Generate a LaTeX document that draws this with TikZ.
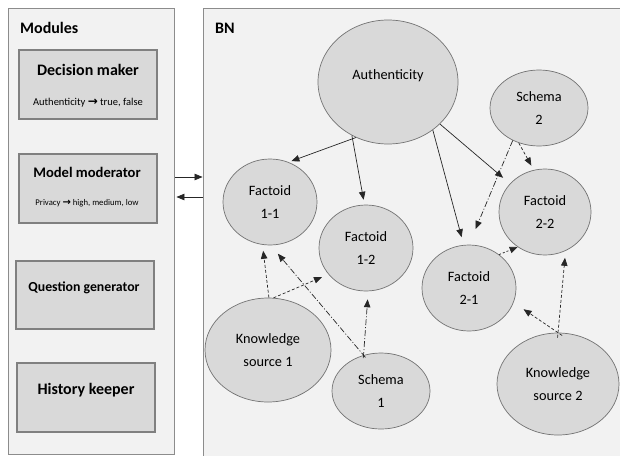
\documentclass[tikz,border=0pt]{standalone}
\usepackage{fontspec}
\setmainfont{Carlito}
\newfontfamily\symfont{DejaVu Sans}
\usetikzlibrary{arrows.meta,calc,shapes.geometric}

\begin{document}
\begin{tikzpicture}[x=1pt,y=-1pt,
  panel/.style={draw=black!45, fill=black!5, line width=0.9pt, inner sep=0},
  modbox/.style={draw=black!50, fill=black!15, line width=1.1pt,
    minimum width=138pt, minimum height=69pt, inner sep=0},
  var/.style={ellipse, draw=black!55, fill=black!15, line width=0.7pt,
    inner sep=0, align=center, font=\fontsize{14.3}{23}\selectfont},
  paneltitle/.style={font=\bfseries\fontsize{16}{18}\selectfont, inner sep=0, anchor=west},
  boxtitle/.style={font=\bfseries\fontsize{#1}{18}\selectfont, inner sep=0},
  boxtitle/.default=16,
  boxnote/.style={font=\fontsize{10.5}{12}\selectfont, inner sep=0},
  smallnote/.style={font=\fontsize{8.7}{10}\selectfont, inner sep=0},
  link/.style={-{Triangle[length=8pt,width=6.5pt]}, line width=0.7pt, draw=black!85},
  dashedlink/.style={link, dash pattern=on 3pt off 2pt},
  dotlink/.style={link, dash pattern=on 2pt off 2pt},
  dashdotlink/.style={link, dash pattern=on 6pt off 2pt on 1pt off 2pt}
]
\useasboundingbox (0,0) rectangle (620,455);
\clip (0,0) rectangle (620,455);
\fill[white] (0,0) rectangle (620,455);

% the two panels
\node[panel, minimum width=166pt, minimum height=446pt] (modules) at (91,231) {};
\node[panel, minimum width=437pt, minimum height=462pt] (bn) at (421.5,239) {};
\node[paneltitle] (modlabel) at (20,28) {Modules};
\node[paneltitle] (bnlabel) at (215,28) {BN};

% module boxes
\node[modbox] (dm) at (88,84.5) {};
\node[boxtitle] (dmtitle) at (88,70) {Decision maker};
\node[boxnote] (dmnote) at (88,102.5) {Authenticity {\symfont\bfseries\fontsize{12}{12}\selectfont →} true, false};

\node[modbox] (mm) at (88,188.5) {};
\node[boxtitle=14.6] (mmtitle) at (87,172.5) {Model moderator};
\node[smallnote] (mmnote) at (87,203.5) {Privacy {\symfont\bfseries\fontsize{10}{10}\selectfont →} high, medium, low};

\node[modbox, minimum height=68pt] (qg) at (85,295) {};
\node[boxtitle=13.8] (qgtitle) at (84,288) {Question generator};

\node[modbox] (hk) at (86,397.5) {};
\node[boxtitle] (hktitle) at (86,390) {History keeper};

% exchange between the panels
\draw[link] ($(modules.east |- mm.east)+(1,-11.5)$) -- ($(bn.west |- mm.east)+(0,-11.5)$);
\draw[link] ($(bn.west |- mm.east)+(0,8.5)$) -- ($(modules.east |- mm.east)+(2,8.5)$);

% network variables
\node[var, minimum width=140pt, minimum height=124pt] (auth) at (388,82) {\raisebox{6pt}[\height][\depth]{Authenticity}};
\node[var, minimum width=98pt, minimum height=76pt] (s2) at (539,108) {Schema\\2};
\node[var, minimum width=94pt, minimum height=86pt] (f11) at (270,202) {Factoid\\1-1};
\node[var, minimum width=92pt, minimum height=86pt] (f22) at (545,212) {Factoid\\2-2};
\node[var, minimum width=94pt, minimum height=86pt] (f12) at (366,248) {Factoid\\1-2};
\node[var, minimum width=94pt, minimum height=86pt] (f21) at (469,288) {Factoid\\2-1};
\node[var, minimum width=126pt, minimum height=104pt] (k1) at (268,350) {Knowledge\\source 1};
\node[var, minimum width=98pt, minimum height=76pt] (s1) at (381,391) {Schema\\1};
\node[var, minimum width=122pt, minimum height=102pt] (k2) at (558,384) {Knowledge\\source 2};

% dependencies
\draw[link, shorten >=3pt] (auth.240) -- (f11.65);
\draw[link, shorten >=5pt] (auth.236) -- (f12.92);
\draw[link, shorten >=8pt] (auth.313) -- (f21.97);
\draw[link, shorten >=9pt] (auth.321) -- (f22.141);

\draw[dashdotlink, shorten >=17pt] (s2.231) -- (f21.90);
\draw[dashedlink, shorten >=5pt] (s2.240) -- (f22.105);
\draw[dotlink] (f21.48) -- (f22.232);

\draw[dashedlink, shorten <=-5pt, shorten >=7pt] (k2.north) -- (f22.298);
\draw[dashedlink, shorten <=-5pt, shorten >=12pt] (k2.north) -- (f21.342);

\draw[dashedlink, shorten >=6pt] (k1.89) -- (f11.260);
\draw[dashedlink, shorten >=7pt] (k1.84) -- (f12.215);

\draw[dashdotlink, shorten <=-3pt, shorten >=11pt] (s1.116) -- (f11.271);
\draw[dashdotlink, shorten <=-3pt, shorten >=8pt] (s1.116) -- (f12.273);
\end{tikzpicture}
\end{document}
